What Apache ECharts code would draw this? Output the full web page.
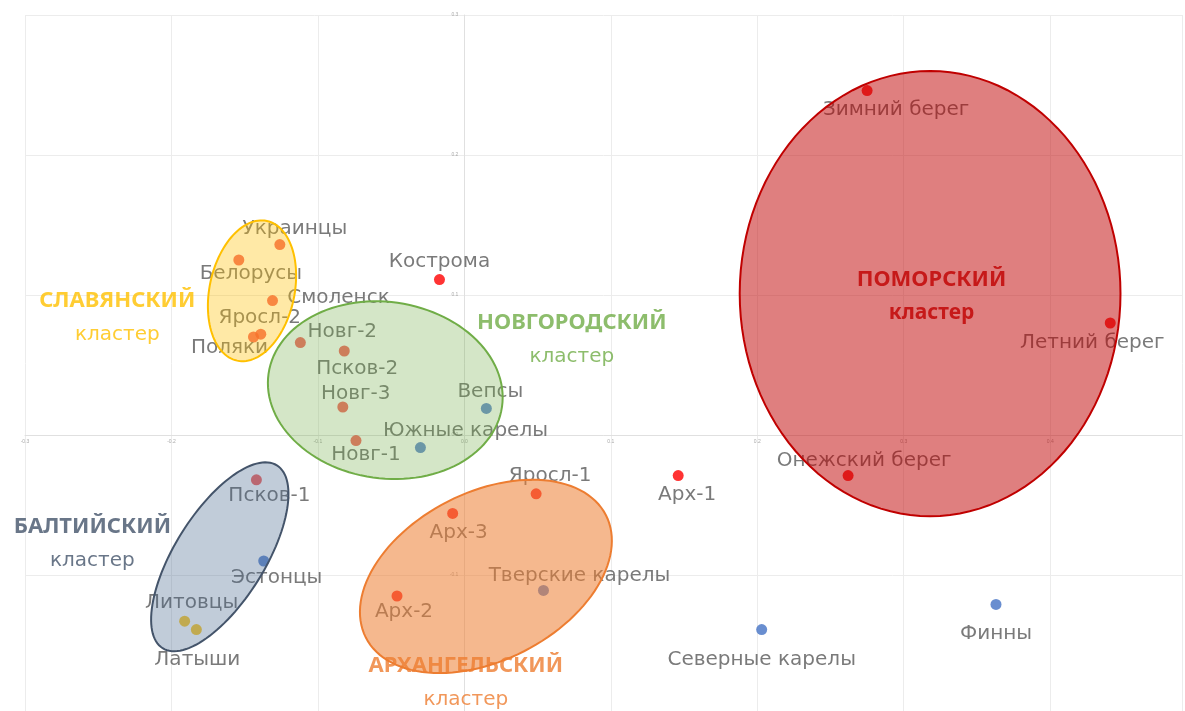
<!DOCTYPE html>
<html lang="ru">

<head>
  <meta charset="UTF-8">
  <title>Кластеры</title>
  <script src="https://cdn.jsdelivr.net/npm/echarts@6/dist/echarts.min.js"></script>
  <style>
    html, body { margin: 0; padding: 0; background: #fff; }
  </style>
</head>

<body>
  <div id="main" style="width: 1185px;height:711px;"></div>

  <script type="text/javascript">
    // Point data
    const names = ['Зимний берег', 'Летний берег', 'Онежский берег', 'Арх-1', 'Кострома',
      'Украинцы', 'Белорусы', 'Смоленск', 'Яросл-2', 'Поляки',
      'Новг-2', 'Псков-2', 'Новг-3', 'Новг-1', 'Южные карелы', 'Вепсы',
      'Псков-1', 'Эстонцы', 'Литовцы', 'Латыши',
      'Яросл-1', 'Арх-3', 'Арх-2', 'Тверские карелы', 'Северные карелы', 'Финны'];
    const xs = [0.275, 0.441, 0.262, 0.146, -0.017,
      -0.126, -0.154, -0.131, -0.139, -0.144,
      -0.112, -0.082, -0.083, -0.074, -0.030, 0.015,
      -0.142, -0.137, -0.191, -0.183,
      0.049, -0.008, -0.046, 0.054, 0.203, 0.363];
    const ys = [0.246, 0.080, -0.029, -0.029, 0.111,
      0.136, 0.125, 0.096, 0.072, 0.070,
      0.066, 0.060, 0.020, -0.004, -0.009, 0.019,
      -0.032, -0.090, -0.133, -0.139,
      -0.042, -0.056, -0.115, -0.111, -0.139, -0.121];
    const groups = ['red', 'red', 'red', 'red', 'red',
      'orange', 'orange', 'orange', 'orange', 'orange',
      'orange', 'orange', 'orange', 'orange', 'blue', 'blue',
      'orange', 'blue', 'gold', 'gold',
      'red', 'red', 'red', 'blue', 'blue', 'blue'];

    // Clusters: centre x, centre y, radius x, radius y, rotation (deg)
    const clusterNames = ['ПОМОРСКИЙ', 'СЛАВЯНСКИЙ', 'НОВГОРОДСКИЙ', 'БАЛТИЙСКИЙ', 'АРХАНГЕЛЬСКИЙ'];
    const clusterCx = [0.318, -0.145, -0.054, -0.167, 0.0147];
    const clusterCy = [0.101, 0.103, 0.032, -0.087, -0.101];
    const clusterRx = [0.130, 0.029, 0.0805, 0.0307, 0.092];
    const clusterRy = [0.159, 0.051, 0.063, 0.077, 0.060];
    const clusterAngle = [0, 12, 8, 32, -27];
    const clusterLabelX = [0.319, -0.237, 0.0734, -0.254, 0.001];
    const clusterLabelY = [0.099, 0.084, 0.068, -0.078, -0.177];

    // Axis ticks
    const xMin = -0.3, xMax = 0.49, yMin = -0.2, yMax = 0.3, step = 0.1;

    // Styles
    const groupColors = { red: '#ff0000', orange: '#f2453f', blue: '#4472c4', gold: '#ffc000' };
    const clusterStyles = [
      { fill: 'rgba(192,0,0,0.5)', stroke: '#c00000', text: '#c00000', boldSub: true },
      { fill: 'rgba(255,192,0,0.35)', stroke: '#ffc000', text: '#ffc000' },
      { fill: 'rgba(112,173,71,0.3)', stroke: '#70ad47', text: '#70ad47' },
      { fill: 'rgba(68,100,140,0.33)', stroke: '#44546a', text: '#44546a' },
      { fill: 'rgba(237,125,49,0.55)', stroke: '#ed7d31', text: '#ed7d31' }
    ];
    const labelOffsets = {
      'Зимний берег': [29, 19], 'Летний берег': [-18, 20], 'Онежский берег': [16, -15],
      'Арх-1': [9, 19], 'Кострома': [0, -18], 'Украинцы': [15, -16], 'Белорусы': [12, 14],
      'Смоленск': [66, -3], 'Яросл-2': [-1, -16], 'Поляки': [-24, 11], 'Новг-2': [42, -11],
      'Псков-2': [13, 18], 'Новг-3': [13, -13], 'Новг-1': [10, 14], 'Южные карелы': [45, -17],
      'Вепсы': [4, -17], 'Псков-1': [13, 16], 'Эстонцы': [13, 17], 'Литовцы': [7, -18],
      'Латыши': [1, 30], 'Яросл-1': [14, -18], 'Арх-3': [6, 19], 'Арх-2': [7, 16],
      'Тверские карелы': [36, -15], 'Северные карелы': [0, 30], 'Финны': [0, 29]
    };

    // Grid box (px)
    const gLeft = 25, gRight = 3, gTop = 15, gBottom = -4;
    const plotW = 1185 - gLeft - gRight, plotH = 711 - gTop - gBottom;
    const zeroX = plotW * (0 - xMin) / (xMax - xMin);
    const zeroY = plotH * (yMax - 0) / (yMax - yMin);

    const pointData = names.map((n, i) => ({
      name: n,
      value: [xs[i], ys[i]],
      itemStyle: { color: groupColors[groups[i]] },
      label: { offset: labelOffsets[n] }
    }));

    const ellipseData = clusterNames.map((n, i) => [clusterCx[i], clusterCy[i], clusterRx[i], clusterRy[i], clusterAngle[i]]);

    const clusterLabelData = clusterNames.map((n, i) => ({
      name: n,
      value: [clusterLabelX[i], clusterLabelY[i]],
      label: {
        formatter: '{a|' + n + '}\n{' + (clusterStyles[i].boldSub ? 'c' : 'b') + '|кластер}',
        rich: {
          a: { color: clusterStyles[i].text, fontWeight: 'bold', fontSize: 22, lineHeight: 34, fontFamily: 'Noto Sans' },
          b: { color: clusterStyles[i].text, fontSize: 20, lineHeight: 34, fontFamily: 'DejaVu Sans' },
          c: { color: clusterStyles[i].text, fontWeight: 'bold', fontSize: 21, lineHeight: 34, fontFamily: 'Noto Sans' }
        }
      }
    }));

    function renderEllipse(params, api) {
      const c = api.coord([api.value(0), api.value(1)]);
      const rx = api.size([api.value(2), 0])[0];
      const ry = api.size([0, api.value(3)])[1];
      const a = api.value(4) * Math.PI / 180;
      const pts = [];
      for (let i = 0; i < 120; i++) {
        const t = i / 120 * Math.PI * 2;
        const x = rx * Math.cos(t), y = ry * Math.sin(t);
        pts.push([c[0] + x * Math.cos(a) - y * Math.sin(a), c[1] + x * Math.sin(a) + y * Math.cos(a)]);
      }
      const st = clusterStyles[params.dataIndex];
      return {
        type: 'polygon',
        shape: { points: pts },
        style: { fill: st.fill, stroke: st.stroke, lineWidth: 2 }
      };
    }

    let myChart = echarts.init(document.getElementById('main'));

    const options = {
      animation: false,
      grid: { left: gLeft, right: gRight, top: gTop, bottom: gBottom, containLabel: false, outerBoundsMode: 'none' },
      xAxis: {
        type: 'value', min: xMin, max: xMax, interval: step,
        position: 'bottom', offset: -(plotH - zeroY),
        axisLine: { onZero: false, lineStyle: { color: '#e0e0e0' } },
        axisTick: { show: false },
        splitLine: { lineStyle: { color: '#ececec' } },
        axisLabel: { fontSize: 5, color: '#aaa', margin: 4, showMaxLabel: false, formatter: v => v.toFixed(1) }
      },
      yAxis: {
        type: 'value', min: yMin, max: yMax, interval: step,
        position: 'left', offset: -zeroX,
        axisLine: { onZero: false, lineStyle: { color: '#e0e0e0' } },
        axisTick: { show: false },
        splitLine: { lineStyle: { color: '#ececec' } },
        axisLabel: { fontSize: 5, color: '#aaa', margin: 6, formatter: v => v.toFixed(1) }
      },
      series: [
        {
          name: 'points',
          type: 'scatter',
          symbolSize: 11,
          z: 2,
          data: pointData,
          label: {
            show: true,
            position: 'inside',
            formatter: '{b}',
            color: '#595959',
            fontSize: 20,
            fontFamily: 'DejaVu Sans'
          }
        },
        {
          name: 'clusters',
          type: 'custom',
          z: 3,
          renderItem: renderEllipse,
          data: ellipseData,
          silent: true
        },
        {
          name: 'clusterLabels',
          type: 'scatter',
          symbolSize: 0,
          z: 4,
          data: clusterLabelData,
          label: { show: true, position: 'inside' },
          silent: true
        }
      ]
    };

    myChart.setOption(options);
  </script>
</body>

</html>
